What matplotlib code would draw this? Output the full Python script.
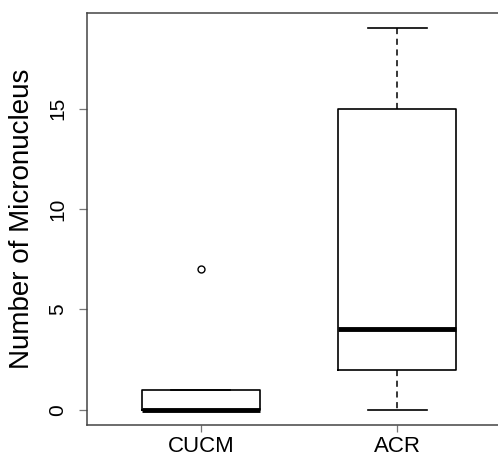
import matplotlib
matplotlib.use("Agg")
from matplotlib import pyplot as plt

plt.rcParams['font.family'] = ['Liberation Sans', 'DejaVu Sans']

# data (five-number summaries + outliers)
groups = ["CUCM", "ACR"]
mins = [0, 0]
q1s = [0, 2]
medians = [0, 4]
q3s = [1, 15]
maxs = [1, 19]
outliers = [[7], []]

stats = []
for name, lo, q1, med, q3, hi, fl in zip(groups, mins, q1s, medians, q3s, maxs, outliers):
    stats.append(dict(label=name, whislo=lo, q1=q1, med=med, q3=q3, whishi=hi, fliers=fl))

fig = plt.figure(figsize=(4.98, 4.57), dpi=100)
# right edge of the plot frame runs off the picture, as in the original
ax = fig.add_axes([87 / 498, 32 / 457, 424 / 498, 412 / 457])

ax.bxp(stats, positions=[1, 2], widths=0.6,
       boxprops=dict(color="black", linewidth=1.2),
       medianprops=dict(color="black", linewidth=3.5, solid_capstyle="butt"),
       whiskerprops=dict(color="black", linewidth=1.1, linestyle=(0, (4, 3))),
       capprops=dict(color="black", linewidth=1.2),
       capwidths=0.3,
       flierprops=dict(marker="o", markersize=5, markerfacecolor="none",
                       markeredgecolor="black", markeredgewidth=1.0))

ax.set_xlim(0.42, 2.58)
ax.set_ylim(-0.76, 19.76)
ax.set_yticks([0, 5, 10, 15])
ax.set_yticklabels(["0", "5", "10", "15"], rotation=90, va="center")
ax.set_xticks([1, 2])
ax.set_xticklabels(groups)

for s in ax.spines.values():
    s.set_color("#444444")
    s.set_linewidth(1.1)
ax.tick_params(axis="y", length=6, width=0.9, color="#777777", labelsize=15, pad=8)
ax.tick_params(axis="x", length=5, width=0.9, color="#777777", labelsize=16, pad=3)

ax.set_ylabel("Number of Micronucleus", fontsize=20, labelpad=10)

fig.savefig("out.png", dpi=100)
